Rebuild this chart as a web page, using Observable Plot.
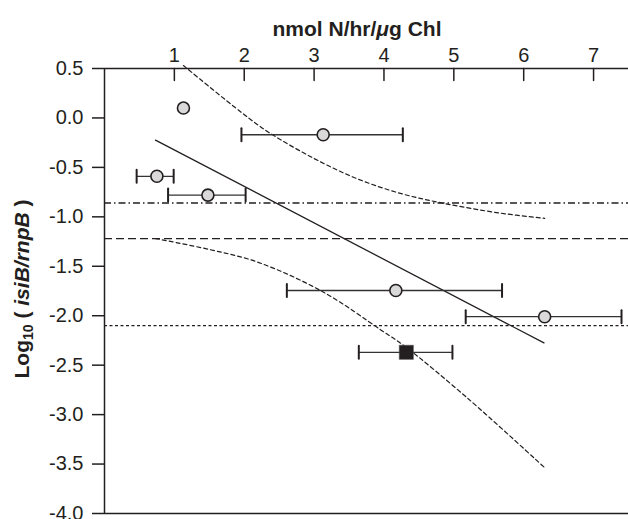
<!DOCTYPE html>
<html><head><meta charset="utf-8">
<script src="https://cdn.jsdelivr.net/npm/d3@7"></script>
<script src="https://cdn.jsdelivr.net/npm/@observablehq/plot@0.6"></script>
<style>body{margin:0;background:#fff}</style>
</head><body><div id="chart"></div>
<script>
// ---- data ----
const xTicks = [1, 2, 3, 4, 5, 6, 7];
const yTicks = [0.5, 0, -0.5, -1, -1.5, -2, -2.5, -3, -3.5, -4];

// grey circles (x, log ratio, horizontal error extent)
const circleX  = [1.13, 3.13, 0.75, 1.48, 4.17, 6.30];
const circleY  = [0.10, -0.17, -0.59, -0.78, -1.745, -2.01];
const circleLo = [null, 1.96, 0.46, 0.91, 2.61, 5.17];
const circleHi = [null, 4.27, 0.99, 2.02, 5.69, 7.40];

// black square
const squareX  = [4.32];
const squareY  = [-2.37];
const squareLo = [3.64];
const squareHi = [4.98];

// regression line
const regX = [0.73, 6.29];
const regY = [-0.224, -2.275];

// confidence band (dashed curves)
const upperX = [1.13, 1.97, 2.36, 3.0, 3.6, 4.22, 4.83, 5.64, 6.30];
const upperY = [0.53, 0.05, -0.15, -0.41, -0.61, -0.76, -0.86, -0.96, -1.015];
const lowerX = [0.73, 1.5, 2.2, 3.13, 3.96, 4.30, 5.19, 6.29];
const lowerY = [-1.22, -1.33, -1.46, -1.76, -2.146, -2.31, -2.83, -3.53];

// horizontal reference levels
const levelDashDot = [-0.86];
const levelDash    = [-1.22];
const levelDot     = [-2.10];

const titleText  = "nmol N/hr/μg Chl";
const yLabelText = "Log10 ( isiB/rnpB )";

// ---- build ----
const ink = "#231f20";
const pts = circleX.map((x, i) => ({x, y: circleY[i], lo: circleLo[i], hi: circleHi[i]}));
const sq  = squareX.map((x, i) => ({x, y: squareY[i], lo: squareLo[i], hi: squareHi[i]}));
const bars = pts.filter(d => d.lo != null).concat(sq);
const reg   = regX.map((x, i) => ({x, y: regY[i]}));
const upper = upperX.map((x, i) => ({x, y: upperY[i]}));
const lower = lowerX.map((x, i) => ({x, y: lowerY[i]}));

const lineShape = {draw(context, l) { context.moveTo(0, 0); context.lineTo(0, -l); }};

const chart = Plot.plot({
  width: 628, height: 519,
  marginTop: 68, marginBottom: 6, marginLeft: 104, marginRight: 0,
  x: {domain: [0, 7.5]},
  y: {domain: [-4, 0.5]},
  style: {fontFamily: "'Liberation Sans', Arial, Helvetica, sans-serif", fontSize: "20px", color: ink, background: "#fff", overflow: "visible"},
  marks: [
    Plot.ruleY(levelDashDot, {stroke: ink, strokeWidth: 1.3, strokeDasharray: "7,3,1.5,3"}),
    Plot.ruleY(levelDash, {stroke: ink, strokeWidth: 1.3, strokeDasharray: "8,4"}),
    Plot.ruleY(levelDot, {stroke: ink, strokeWidth: 1.3, strokeDasharray: "3,2.5"}),
    Plot.line(upper, {x: "x", y: "y", curve: "catmull-rom", stroke: ink, strokeWidth: 1.2, strokeDasharray: "4,3"}),
    Plot.line(lower, {x: "x", y: "y", curve: "catmull-rom", stroke: ink, strokeWidth: 1.2, strokeDasharray: "4,3"}),
    Plot.line(reg, {x: "x", y: "y", stroke: ink, strokeWidth: 1.3}),
    Plot.ruleY(bars, {y: "y", x1: "lo", x2: "hi", stroke: "#333", strokeWidth: 1.3}),
    Plot.vector(bars, {x: "lo", y: "y", length: 13, anchor: "middle", shape: lineShape, stroke: ink, strokeWidth: 2}),
    Plot.vector(bars, {x: "hi", y: "y", length: 13, anchor: "middle", shape: lineShape, stroke: ink, strokeWidth: 2}),
    Plot.dot(pts, {x: "x", y: "y", r: 6, fill: "#d9d9d9", stroke: ink, strokeWidth: 1.6}),
    Plot.dot(sq, {x: "x", y: "y", symbol: "square", r: 8, fill: ink, stroke: "#555", strokeWidth: 0.5}),
    // frame
    Plot.ruleX([0], {stroke: ink, strokeWidth: 1.5}),
    Plot.ruleY([0.5], {stroke: ink, strokeWidth: 1.5}),
    Plot.ruleY([-4], {stroke: ink, strokeWidth: 1.5}),
    // axes
    Plot.axisX(xTicks, {anchor: "top", tickSize: 0, tickPadding: 7, tickFormat: d => String(d), label: null, fontSize: 20}),
    Plot.vector(xTicks, {x: d => d, frameAnchor: "top", length: 12, rotate: 180, anchor: "start", shape: lineShape, stroke: ink, strokeWidth: 1.5}),
    Plot.axisY(yTicks, {tickSize: 12, tickPadding: 9, tickFormat: d => d.toFixed(1), label: null, fontSize: 20, strokeWidth: 1.5}),
    // titles
    Plot.text([titleText], {frameAnchor: "top-left", dx: 168, dy: -47, textAnchor: "start", fontWeight: "bold", fontSize: 21}),
    Plot.text([yLabelText], {frameAnchor: "left", dx: -82, dy: -2, rotate: -90, textAnchor: "middle", fontWeight: "bold", fontSize: 21})
  ]
});

document.getElementById("chart").appendChild(chart);

// rich text: subscript and italics
d3.select(chart).selectAll("text").each(function() {
  const t = d3.select(this);
  if (this.textContent === yLabelText) {
    t.text(null);
    t.append("tspan").text("Log");
    t.append("tspan").attr("font-size", 14).attr("dy", 4).text("10");
    t.append("tspan").attr("dy", -4).text(" ( ");
    t.append("tspan").attr("font-style", "italic").text("isiB/rnpB");
    t.append("tspan").text(" )");
  } else if (this.textContent === titleText) {
    t.text(null);
    t.append("tspan").text("nmol N/hr/");
    t.append("tspan").attr("font-style", "italic").text("μ");
    t.append("tspan").text("g Chl");
  }
});
</script>
</body></html>
